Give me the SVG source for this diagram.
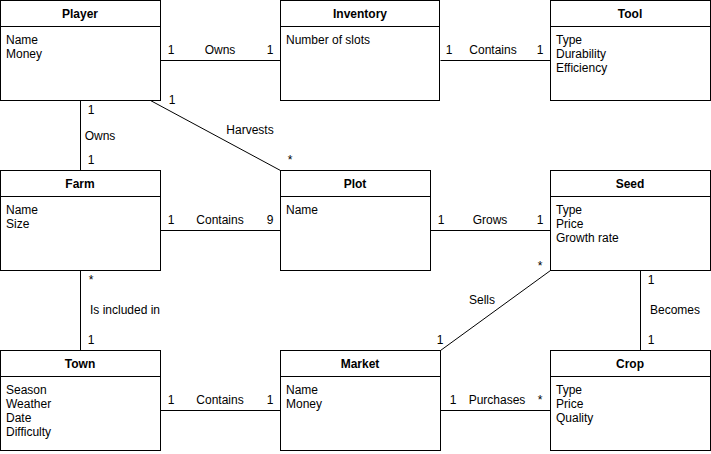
<svg xmlns="http://www.w3.org/2000/svg" width="711" height="454" viewBox="0 0 711 454">
<style>
.box{fill:#fff;stroke:#000;stroke-width:1}
.hd{font-family:"Liberation Sans",Arial,sans-serif;font-size:12px;font-weight:bold;text-anchor:middle;fill:#000}
.at{font-family:"Liberation Sans",Arial,sans-serif;font-size:12px;fill:#000}
.lb{font-family:"Liberation Sans",Arial,sans-serif;font-size:12px;fill:#000;text-anchor:middle}
.cn{stroke:#000;stroke-width:1;fill:none}
</style>
<rect width="711" height="454" fill="#fff"/>
<g id="connectors">
<path class="cn" d="M160.5 60.5H280.5"/>
<path class="cn" d="M440.5 60.5H550.5"/>
<path class="cn" d="M80.5 100.5V170.5"/>
<path class="cn" d="M150.5 100.5L280.5 170.5"/>
<path class="cn" d="M160.5 230.5H280.5"/>
<path class="cn" d="M430.5 230.5H550.5"/>
<path class="cn" d="M80.5 270.5V350.5"/>
<path class="cn" d="M550.5 270.5L440.5 350.5"/>
<path class="cn" d="M640.5 270.5V350.5"/>
<path class="cn" d="M160.5 410.5H280.5"/>
<path class="cn" d="M440.5 410.5H550.5"/>
<text class="lb" x="171" y="54">1</text><text class="lb" x="220" y="54">Owns</text><text class="lb" x="270" y="54">1</text>
<text class="lb" x="449" y="54">1</text><text class="lb" x="493" y="54">Contains</text><text class="lb" x="540" y="54">1</text>
<text class="lb" x="91" y="114">1</text><text class="lb" x="100" y="140">Owns</text><text class="lb" x="91" y="164">1</text>
<text class="lb" x="172" y="104">1</text><text class="lb" x="250" y="134">Harvests</text><text class="lb" x="290" y="164">*</text>
<text class="lb" x="171" y="224">1</text><text class="lb" x="220" y="224">Contains</text><text class="lb" x="270" y="224">9</text>
<text class="lb" x="441" y="224">1</text><text class="lb" x="490" y="224">Grows</text><text class="lb" x="540" y="224">1</text>
<text class="lb" x="91" y="284">*</text><text class="lb" x="125" y="314">Is included in</text><text class="lb" x="91" y="344">1</text>
<text class="lb" x="540" y="270">*</text><text class="lb" x="482" y="304">Sells</text><text class="lb" x="440" y="344">1</text>
<text class="lb" x="651" y="284">1</text><text class="lb" x="675" y="314">Becomes</text><text class="lb" x="651" y="344">1</text>
<text class="lb" x="171" y="404">1</text><text class="lb" x="220" y="404">Contains</text><text class="lb" x="270" y="404">1</text>
<text class="lb" x="453" y="404">1</text><text class="lb" x="497" y="404">Purchases</text><text class="lb" x="540" y="404">*</text>
</g>
<g id="player"><rect class="box" x="0.5" y="0.5" width="160" height="100"/><path class="cn" d="M0.5 26.5H160.5"/><text class="hd" x="80" y="18">Player</text><text class="at" x="6" y="44">Name</text><text class="at" x="6" y="58">Money</text></g>
<g id="inventory"><rect class="box" x="280.5" y="0.5" width="159" height="100"/><path class="cn" d="M280.5 26.5H439.5"/><text class="hd" x="360" y="18">Inventory</text><text class="at" x="286" y="44">Number of slots</text></g>
<g id="tool"><rect class="box" x="550.5" y="0.5" width="160" height="100"/><path class="cn" d="M550.5 26.5H710.5"/><text class="hd" x="630" y="18">Tool</text><text class="at" x="556" y="44">Type</text><text class="at" x="556" y="58">Durability</text><text class="at" x="556" y="72">Efficiency</text></g>
<g id="farm"><rect class="box" x="0.5" y="170.5" width="160" height="100"/><path class="cn" d="M0.5 196.5H160.5"/><text class="hd" x="80" y="188">Farm</text><text class="at" x="6" y="214">Name</text><text class="at" x="6" y="228">Size</text></g>
<g id="plot"><rect class="box" x="280.5" y="170.5" width="150" height="100"/><path class="cn" d="M280.5 196.5H430.5"/><text class="hd" x="355" y="188">Plot</text><text class="at" x="286" y="214">Name</text></g>
<g id="seed"><rect class="box" x="550.5" y="170.5" width="160" height="100"/><path class="cn" d="M550.5 196.5H710.5"/><text class="hd" x="630" y="188">Seed</text><text class="at" x="556" y="214">Type</text><text class="at" x="556" y="228">Price</text><text class="at" x="556" y="242">Growth rate</text></g>
<g id="town"><rect class="box" x="0.5" y="350.5" width="160" height="100"/><path class="cn" d="M0.5 376.5H160.5"/><text class="hd" x="80" y="368">Town</text><text class="at" x="6" y="394">Season</text><text class="at" x="6" y="408">Weather</text><text class="at" x="6" y="422">Date</text><text class="at" x="6" y="436">Difficulty</text></g>
<g id="market"><rect class="box" x="280.5" y="350.5" width="160" height="100"/><path class="cn" d="M280.5 376.5H440.5"/><text class="hd" x="360" y="368">Market</text><text class="at" x="286" y="394">Name</text><text class="at" x="286" y="408">Money</text></g>
<g id="crop"><rect class="box" x="550.5" y="350.5" width="160" height="100"/><path class="cn" d="M550.5 376.5H710.5"/><text class="hd" x="630" y="368">Crop</text><text class="at" x="556" y="394">Type</text><text class="at" x="556" y="408">Price</text><text class="at" x="556" y="422">Quality</text></g>
</svg>
